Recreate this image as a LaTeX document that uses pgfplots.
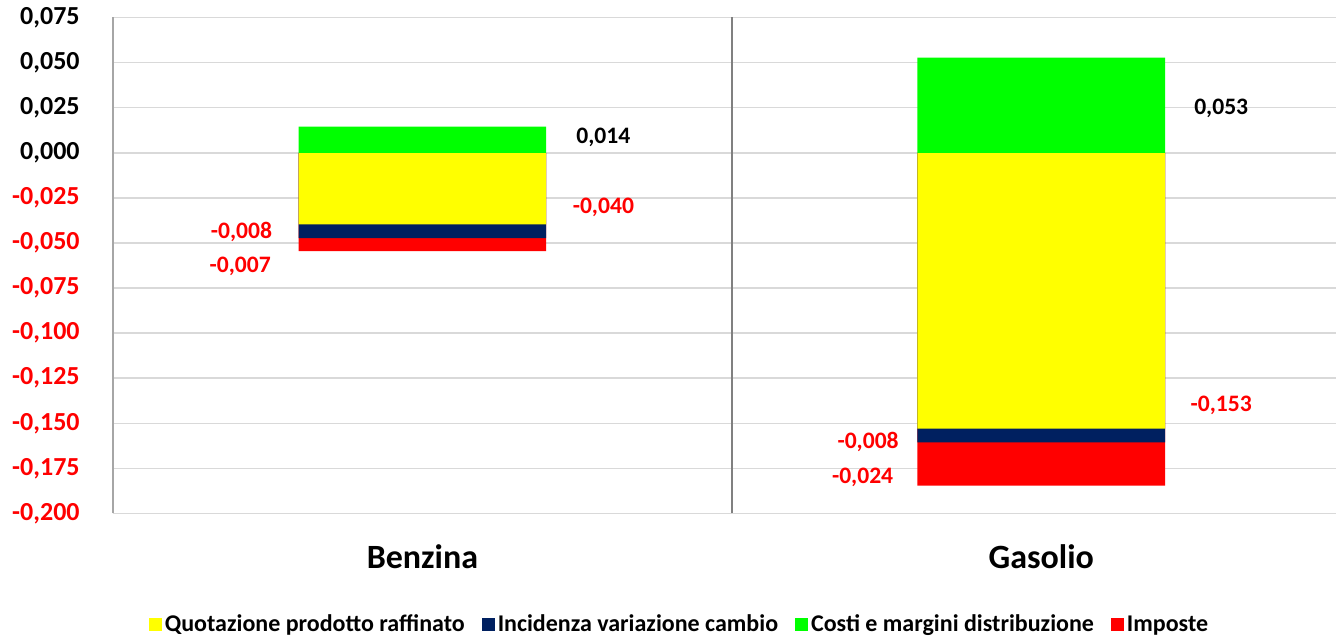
\documentclass[border=0pt]{standalone}
\usepackage{pgfplots}
\usepackage{pgfplotstable}
\pgfplotsset{compat=1.18}
\usepackage{fontspec}
\setmainfont{Carlito}
\definecolor{qyel}{HTML}{FFFF00}
\definecolor{inav}{HTML}{002060}
\definecolor{cgre}{HTML}{00FF00}
\definecolor{ired}{HTML}{FF0000}
\definecolor{gridgray}{HTML}{D9D9D9}
\definecolor{axgray}{HTML}{A6A6A6}
\definecolor{sepgray}{HTML}{808080}

% x: 0 = Benzina, 1 = Gasolio
\pgfplotstableread{
x q i c t
0 -0.0397 -0.0076 0.0145 -0.0072
1 -0.1530 -0.0076 0.0527 -0.0239
}\datatab

\pgfplotstableread{
x y lab
0.2924 0.0083 0,014
1.2908 0.0244 0,053
}\labblack

\pgfplotstableread{
x y lab
0.2924 -0.0300 -0,040
-0.2924 -0.0438 -0,008
-0.2943 -0.0632 -0,007
1.2908 -0.1403 -0,153
0.7202 -0.1603 -0,008
0.7113 -0.1797 -0,024
}\labred

\begin{document}
\begin{tikzpicture}
\begin{axis}[
  at={(56.5pt,63.75pt)}, anchor=south west,
  scale only axis, width=611.5pt, height=248pt,
  xmin=-0.5, xmax=1.4763,
  ymin=-0.2, ymax=0.075,
  axis x line*=bottom, axis y line*=left,
  x axis line style={draw=gridgray, line width=0.75pt, -},
  y axis line style={draw=axgray, line width=0.75pt, -},
  major tick length=0pt,
  xtick={0,1}, xticklabels={Benzina,Gasolio},
  xticklabel style={font=\fontsize{17pt}{20pt}\selectfont\bfseries, anchor=base, yshift=-27.75pt},
  extra x ticks={0.5}, extra x tick labels={},
  extra x tick style={grid=major, major grid style={draw=sepgray, line width=0.9pt}},
  ytick={-0.2,-0.175,-0.15,-0.125,-0.1,-0.075,-0.05,-0.025,0,0.025,0.05,0.075},
  yticklabels={{\textcolor{ired}{-0,200}},{\textcolor{ired}{-0,175}},{\textcolor{ired}{-0,150}},{\textcolor{ired}{-0,125}},{\textcolor{ired}{-0,100}},{\textcolor{ired}{-0,075}},{\textcolor{ired}{-0,050}},{\textcolor{ired}{-0,025}},{0,000},{0,025},{0,050},{0,075}},
  yticklabel style={font=\fontsize{13pt}{15pt}\selectfont\bfseries, anchor=east, inner sep=0pt, xshift=-16.5pt},
  ymajorgrids, major grid style={draw=gridgray, line width=0.75pt},
  legend image code/.code={\fill[#1] (0pt,-3.25pt) rectangle (6.5pt,3.25pt);},
  legend columns=4,
  legend cell align=left,
  legend style={at={(0.4636,-0.2248)}, anchor=center, draw=none, fill=none,
    font=\fontsize{12pt}{14pt}\selectfont\bfseries,
    /tikz/every even column/.append style={column sep=7pt},
    nodes={inner sep=1.5pt}},
]
\addlegendimage{fill=qyel, draw=none}
\addlegendentry{Quotazione prodotto raffinato}
\addlegendimage{fill=inav, draw=none}
\addlegendentry{Incidenza variazione cambio}
\addlegendimage{fill=cgre, draw=none}
\addlegendentry{Costi e margini distribuzione}
\addlegendimage{fill=ired, draw=none}
\addlegendentry{Imposte}

\addplot[ybar, bar width=0.4, bar shift=0pt, fill=ired, draw=none, forget plot]
  table[x=x, y expr=\thisrow{q}+\thisrow{i}+\thisrow{t}] {\datatab};
\addplot[ybar, bar width=0.4, bar shift=0pt, fill=inav, draw=none, forget plot]
  table[x=x, y expr=\thisrow{q}+\thisrow{i}] {\datatab};
\addplot[ybar, bar width=0.4, bar shift=0pt, fill=qyel, draw=none, forget plot]
  table[x=x, y=q] {\datatab};
\addplot[ybar, bar width=0.4, bar shift=0pt, fill=cgre, draw=none, forget plot]
  table[x=x, y=c] {\datatab};

\addplot[only marks, mark=*, mark size=0pt, mark options={draw=none, fill=none}, forget plot,
  nodes near coords, point meta=explicit symbolic,
  nodes near coords style={anchor=center, text=black, font=\fontsize{11.8pt}{14pt}\selectfont\bfseries}]
  table[x=x, y=y, meta=lab] {\labblack};
\addplot[only marks, mark=*, mark size=0pt, mark options={draw=none, fill=none}, forget plot,
  nodes near coords, point meta=explicit symbolic,
  nodes near coords style={anchor=center, text=ired, font=\fontsize{11.8pt}{14pt}\selectfont\bfseries}]
  table[x=x, y=y, meta=lab] {\labred};
\end{axis}
\pgfresetboundingbox
\useasboundingbox (0,0) rectangle (668pt,320.5pt);
\end{tikzpicture}
\end{document}
